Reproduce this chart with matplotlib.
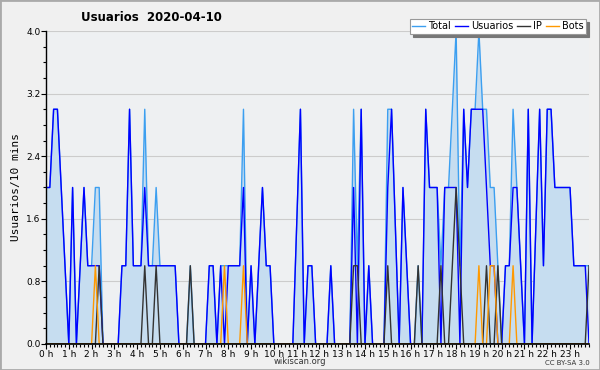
# Usuarios 2020-04-10 (wikiscan) - users per 10 min
import numpy as np
import matplotlib.pyplot as plt
from matplotlib.ticker import MultipleLocator, FixedLocator
from matplotlib.patches import Rectangle

# ---- data: one value per 10-minute slot (144 slots) ----
total = [2, 2, 3, 3, 2, 1, 0, 2, 0, 1, 2, 1,
         1, 2, 2, 0, 0, 0, 0, 0, 1, 1, 3, 1,
         1, 1, 3, 1, 1, 2, 1, 1, 1, 1, 1, 0,
         0, 0, 1, 0, 0, 0, 0, 1, 1, 0, 1, 1,
         1, 1, 1, 1, 3, 0, 1, 0, 1, 2, 1, 1,
         0, 0, 0, 0, 0, 0, 1.5, 3, 0, 1, 1, 0,
         0, 0, 0, 1, 0, 0, 0, 0, 0, 3, 1, 3,
         0, 1, 0, 0, 0, 0, 3, 3, 1.5, 0, 2, 1,
         0, 0, 1, 0, 3, 2, 2, 2, 1, 2, 2, 3,
         4, 1, 3, 2, 3, 3, 4, 3, 3, 2, 2, 1,
         0, 1, 1, 3, 2, 1, 0, 3, 0, 1.5, 3, 1,
         3, 3, 2, 2, 2, 2, 2, 1, 1, 1, 1, 1]

usuarios = [2, 2, 3, 3, 2, 1, 0, 2, 0, 1, 2, 1,
            1, 1, 1, 0, 0, 0, 0, 0, 1, 1, 3, 1,
            1, 1, 2, 1, 1, 1, 1, 1, 1, 1, 1, 0,
            0, 0, 0, 0, 0, 0, 0, 1, 1, 0, 1, 0,
            1, 1, 1, 1, 2, 0, 1, 0, 1, 2, 1, 1,
            0, 0, 0, 0, 0, 0, 1.5, 3, 0, 1, 1, 0,
            0, 0, 0, 1, 0, 0, 0, 0, 0, 2, 0, 3,
            0, 1, 0, 0, 0, 0, 2, 3, 1.5, 0, 2, 1,
            0, 0, 0, 0, 3, 2, 2, 2, 0, 2, 2, 2,
            2, 0, 3, 2, 3, 3, 3, 3, 2, 1, 1, 0,
            0, 1, 1, 2, 2, 1, 0, 3, 0, 1.5, 3, 1,
            3, 3, 2, 2, 2, 2, 2, 1, 1, 1, 1, 0]

ip = [0, 0, 0, 0, 0, 0, 0, 0, 0, 0, 0, 0,
      0, 0, 1, 0, 0, 0, 0, 0, 0, 0, 0, 0,
      0, 0, 1, 0, 0, 1, 0, 0, 0, 0, 0, 0,
      0, 0, 1, 0, 0, 0, 0, 0, 0, 0, 0, 0,
      0, 0, 0, 0, 0, 0, 0, 0, 0, 0, 0, 0,
      0, 0, 0, 0, 0, 0, 0, 0, 0, 0, 0, 0,
      0, 0, 0, 0, 0, 0, 0, 0, 0, 1, 1, 0,
      0, 0, 0, 0, 0, 0, 1, 0, 0, 0, 0, 0,
      0, 0, 1, 0, 0, 0, 0, 0, 1, 0, 0, 1,
      2, 1, 0, 0, 0, 0, 0, 0, 1, 0, 0, 1,
      0, 0, 0, 0, 0, 0, 0, 0, 0, 0, 0, 0,
      0, 0, 0, 0, 0, 0, 0, 0, 0, 0, 0, 1]

bots = [0, 0, 0, 0, 0, 0, 0, 0, 0, 0, 0, 0,
        0, 1, 0, 0, 0, 0, 0, 0, 0, 0, 0, 0,
        0, 0, 0, 0, 0, 0, 0, 0, 0, 0, 0, 0,
        0, 0, 0, 0, 0, 0, 0, 0, 0, 0, 0, 1,
        0, 0, 0, 0, 1, 0, 0, 0, 0, 0, 0, 0,
        0, 0, 0, 0, 0, 0, 0, 0, 0, 0, 0, 0,
        0, 0, 0, 0, 0, 0, 0, 0, 0, 0, 0, 0,
        0, 0, 0, 0, 0, 0, 0, 0, 0, 0, 0, 0,
        0, 0, 0, 0, 0, 0, 0, 0, 0, 0, 0, 0,
        0, 0, 0, 0, 0, 0, 1, 0, 0, 1, 1, 0,
        0, 0, 0, 1, 0, 0, 0, 0, 0, 0, 0, 0,
        0, 0, 0, 0, 0, 0, 0, 0, 0, 0, 0, 0]

hour_labels = [f"{h} h" for h in range(24)]

x = np.arange(len(total))

# ---- figure ----
fig = plt.figure(figsize=(6, 3.7), dpi=100, facecolor="#f0f0f0")
ax = fig.add_axes([0.0767, 0.0703, 0.905, 0.8459], facecolor="#eef0f2")

ax.fill_between(x, total, color="#c6ddf0", lw=0)
ax.plot(x, total, color="#3c9ff0", lw=1.0, label="Total")
ax.plot(x, usuarios, color="#0000ff", lw=1.0, label="Usuarios")
ax.plot(x, ip, color="#333333", lw=1.0, label="IP")
ax.plot(x, bots, color="#ff9900", lw=1.0, label="Bots")

ax.set_xlim(0, len(total) - 1)
ax.set_ylim(0, 4)

ax.yaxis.set_major_locator(MultipleLocator(0.8))
ax.yaxis.set_minor_locator(MultipleLocator(0.2))
ax.yaxis.set_major_formatter(plt.FormatStrFormatter("%.1f"))
ax.xaxis.set_major_locator(FixedLocator(np.arange(0, 144, 6)))
ax.xaxis.set_minor_locator(MultipleLocator(1))
ax.set_xticklabels(hour_labels)

ax.tick_params(axis="both", which="major", length=3.5, width=0.8, labelsize=6.5, pad=0.5)
ax.tick_params(axis="both", which="minor", length=2.5, width=0.8)
ax.grid(axis="y", which="major", color="#cccccc", lw=0.8)
ax.set_axisbelow(True)

for s in ["top", "right"]:
    ax.spines[s].set_visible(False)
ax.spines["left"].set_linewidth(1.0)
ax.spines["bottom"].set_linewidth(1.2)

ax.set_ylabel("Usuarios/10 mins", family="DejaVu Sans Mono", fontsize=8, labelpad=4)

fig.text(0.252, 0.953, "Usuarios  2020-04-10", fontsize=8.5, fontweight="bold",
         ha="center", va="center")

leg = ax.legend(loc="upper right", bbox_to_anchor=(0.985, 0.962),
                bbox_transform=fig.transFigure, ncol=4, fontsize=7,
                handlelength=1.3, handletextpad=0.35, columnspacing=0.4,
                borderpad=0.25, fancybox=False, framealpha=1,
                shadow={"color": "#777777", "alpha": 1, "ox": 2, "oy": -2})
leg.get_frame().set_edgecolor("#999999")
leg.get_frame().set_linewidth(0.8)

fig.text(0.5, 0.022, "wikiscan.org", fontsize=6, ha="center", va="center", color="#333333")
fig.text(0.983, 0.018, "CC BY-SA 3.0", fontsize=5, ha="right", va="center", color="#333333")

# grey frame around the picture
fig.patches.append(Rectangle((0, 0), 1, 1, transform=fig.transFigure, fill=False,
                             edgecolor="#aaaaaa", lw=2))

fig.savefig("out.png", dpi=100, facecolor=fig.get_facecolor())
